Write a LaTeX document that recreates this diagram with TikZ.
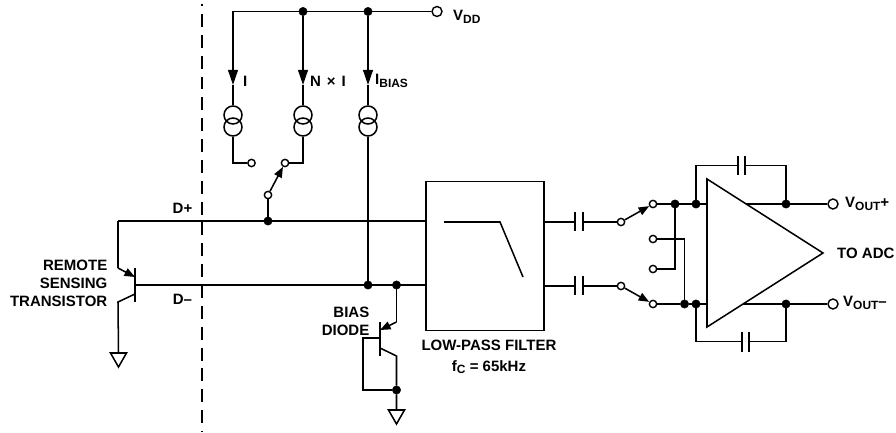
\documentclass[tikz,border=0pt]{standalone}
\usepackage{fontspec}
\setmainfont{Liberation Sans}
\usetikzlibrary{arrows.meta}
\newcommand{\lowsub}[1]{\raisebox{-.35ex}{\fontsize{10.2}{12}\selectfont #1}}
\tikzset{
	wire/.style={line width=1.3pt},
	tip/.style={wire, -{Triangle[length=13pt, width=8.5pt]}},
	smalltip/.style={wire, -{Triangle[length=9pt, width=7pt]}},
	dot/.style={circle, fill=black, draw=black, inner sep=0pt, minimum size=0.25cm},
	term/.style={circle, draw, fill=white, line width=1.2pt, inner sep=0pt, minimum size=0.22cm},
	bigterm/.style={term, minimum size=0.3cm},
	source/.style={circle, draw, line width=1.3pt, inner sep=0pt, minimum size=0.54cm},
	label/.style={align=center, inner sep=0pt, font=\fontsize{12.8}{15.5}\selectfont\bfseries},
}
\begin{document}
\begin{tikzpicture}[x=0.03cm, y=-0.03cm]
	\useasboundingbox (0,0) rectangle (896,433);

	% boundary
	\coordinate (dashtop) at (202,4);
	\coordinate (dashbot) at (202,432);
	\draw[wire, dash pattern=on 11pt off 6.8pt, dash phase=9.3pt] (dashtop) -- (dashbot);

	% supply rail
	\coordinate (railleft) at (233,11.5);
	\node[dot] (raila) at (303,11.5) {};
	\node[dot] (railb) at (368,11.5) {};
	\node[bigterm] (vdd) at (437,11.5) {};
	\node[label, anchor=west] at (453,17) {V\lowsub{DD}};
	\draw[wire] (railleft) -- (raila) -- (railb) -- (vdd);

	% current sources
	\node[source] (sia) at (233,115) {};
	\node[source] (sib) at (233,127) {};
	\node[source] (sna) at (303,115) {};
	\node[source] (snb) at (303,127) {};
	\node[source] (sba) at (368,115) {};
	\node[source] (sbb) at (368,127) {};
	\coordinate (tipi) at (233,85);
	\coordinate (tipn) at (303,85);
	\coordinate (tipb) at (368,85);
	\draw[tip] (railleft) -- (tipi);
	\draw[tip] (raila) -- (tipn);
	\draw[tip] (railb) -- (tipb);
	\draw[wire] (tipi) -- (sia.north);
	\draw[wire] (tipn) -- (sna.north);
	\draw[wire] (tipb) -- (sba.north);
	\node[label, anchor=west] at (243,81) {I};
	\node[label, anchor=west] at (310,81) {N\hspace{1.5pt} × \hspace{1.5pt}I};
	\node[label, anchor=west] at (375,81) {I\lowsub{BIAS}};

	% switch at the sources
	\node[term] (swi) at (251.5,163) {};
	\node[term] (swn) at (285,163) {};
	\node[term] (swd) at (268,195) {};
	\coordinate (ci) at (233,163);
	\coordinate (cn) at (303,163);
	\draw[wire] (sib.south) -- (ci) -- (swi);
	\draw[wire] (snb.south) -- (cn) -- (swn);
	\draw[smalltip] (swd) -- (swn);

	% signal lines
	\node[dot] (dpdot) at (268,221) {};
	\node[dot] (dmdot) at (368,285) {};
	\node[dot] (diodedot) at (396.5,285) {};
	\node[draw, line width=1.3pt, inner sep=0pt, minimum width=3.54cm, minimum height=4.47cm] (lpf) at (485,256) {};
	\coordinate (dpleft) at (118,221);
	\coordinate (dpright) at (lpf.west |- dpleft);
	\coordinate (base) at (135,285);
	\coordinate (dmright) at (lpf.west |- base);
	\draw[wire] (dpleft) -- (dpright);
	\draw[wire] (base) -- (dmright);
	\draw[wire] (swd) -- (dpdot);
	\draw[wire] (sbb.south) -- (dmdot);
	\node[label] at (182.5,208) {D+};
	\node[label] at (182.5,299) {D–};

	% remote transistor
	\coordinate (rbtop) at (135,268);
	\coordinate (rbbot) at (135,302);
	\coordinate (remit) at (118,268);
	\coordinate (remitin) at (135,277);
	\coordinate (rcoll) at (118,302);
	\coordinate (rcollin) at (135,294);
	\coordinate (rgnd) at (118.5,353);
	\draw[wire] (rbtop) -- (rbbot);
	\draw[wire] (dpleft) -- (remit);
	\draw[smalltip] (remit) -- (remitin);
	\draw[wire] (rcollin) -- (rcoll) -- (rgnd);
	\draw[wire] (rgnd) ++(-8,0) -- ++(16,0) -- ++(-8,14) -- cycle;
	\node[label, align=right, anchor=east] at (107.5,283) {REMOTE\\SENSING\\TRANSISTOR};

	% bias diode
	\coordinate (dbtop) at (380,322);
	\coordinate (dbbot) at (380,356);
	\coordinate (demit) at (396.5,322);
	\coordinate (demitin) at (380,330);
	\coordinate (dcoll) at (396.5,356);
	\coordinate (dcollin) at (380,348);
	\coordinate (dbase) at (380,338);
	\coordinate (dloopa) at (363,338);
	\coordinate (dloopb) at (363,390);
	\node[dot] (dloopdot) at (396.5,390) {};
	\coordinate (dgnd) at (396.5,410);
	\draw[wire] (dbtop) -- (dbbot);
	\draw[wire] (diodedot) -- (demit);
	\draw[smalltip] (demit) -- (demitin);
	\draw[wire] (dcollin) -- (dcoll) -- (dloopdot) -- (dgnd);
	\draw[wire] (dbase) -- (dloopa) -- (dloopb) -- (dloopdot);
	\draw[wire] (dgnd) ++(-8,0) -- ++(16,0) -- ++(-8,14) -- cycle;
	\node[label, align=right, anchor=east] at (369.5,321) {BIAS\\DIODE};

	% filter
	\coordinate (fa) at (444,222);
	\coordinate (fb) at (500,222);
	\coordinate (fc) at (523,277);
	\draw[wire] (fa) -- (fb) -- (fc);
	\node[label] at (489,357) {LOW-PASS FILTER\\[2pt]f\lowsub{C} = 65kHz};

	% coupling capacitors and input switches
	\coordinate (lpfa) at (544,222);
	\coordinate (lpfb) at (544,286);
	\coordinate (caal) at (575,222);
	\coordinate (caar) at (583,222);
	\coordinate (cabl) at (575,286);
	\coordinate (cabr) at (583,286);
	\node[term] (swal) at (621,222) {};
	\node[term] (swbl) at (621,286) {};
	\node[term] (swar) at (653,204) {};
	\node[term] (swbr) at (653,304) {};
	\node[term] (swc) at (653,239) {};
	\node[term] (swe) at (653,269) {};
	\draw[wire] (lpfa) -- (caal);
	\draw[wire] (caar) -- (swal);
	\draw[wire] (lpfb) -- (cabl);
	\draw[wire] (cabr) -- (swbl);
	\draw[wire] (575,212) -- (575,231);
	\draw[wire] (583,212) -- (583,231);
	\draw[wire] (575,276) -- (575,295);
	\draw[wire] (583,276) -- (583,295);
	\draw[smalltip] (swal) -- (swar);
	\draw[smalltip] (swbl) -- (swbr);

	% amplifier
	\coordinate (ampa) at (707,179);
	\coordinate (ampb) at (707,327);
	\coordinate (ampc) at (823,253);
	\draw[wire] (ampa) -- (ampc) -- (ampb) -- cycle;
	\node[label, anchor=west] at (837,253) {TO ADC};

	\node[dot] (inaa) at (675,204) {};
	\node[dot] (inab) at (696,204) {};
	\node[dot] (inba) at (684.5,304) {};
	\node[dot] (inbb) at (696,304) {};
	\node[dot] (outa) at (786,204) {};
	\node[dot] (outb) at (786,304) {};
	\node[bigterm] (vouta) at (833,204) {};
	\node[bigterm] (voutb) at (833,304) {};
	\coordinate (ampain) at (707,204);
	\coordinate (ampbin) at (707,304);
	\coordinate (ampaout) at (746,204);
	\coordinate (ampbout) at (743,304);
	\draw[wire] (swar) -- (inaa) -- (inab) -- (ampain);
	\draw[wire] (swbr) -- (inba) -- (inbb) -- (ampbin);
	\draw[wire] (ampaout) -- (outa) -- (vouta);
	\draw[wire] (ampbout) -- (outb) -- (voutb);
	\coordinate (crossc) at (684.5,239);
	\coordinate (crosse) at (675,269);
	\draw[wire] (swc) -- (crossc) -- (inba);
	\draw[wire] (swe) -- (crosse) -- (inaa);
	\node[label, anchor=west] at (845,204) {V\lowsub{OUT}+};
	\node[label, anchor=west] at (843,303) {V\lowsub{OUT}–};

	% feedback capacitors
	\coordinate (fbal) at (696,165.5);
	\coordinate (fbac) at (738,165.5);
	\coordinate (fbad) at (745,165.5);
	\coordinate (fbar) at (786,165.5);
	\coordinate (fbbl) at (696,341.5);
	\coordinate (fbbc) at (742,341.5);
	\coordinate (fbbd) at (749,341.5);
	\coordinate (fbbr) at (786,341.5);
	\draw[wire] (inab) -- (fbal) -- (fbac);
	\draw[wire] (fbad) -- (fbar) -- (outa);
	\draw[wire] (inbb) -- (fbbl) -- (fbbc);
	\draw[wire] (fbbd) -- (fbbr) -- (outb);
	\draw[wire] (738,156) -- (738,175);
	\draw[wire] (745,156) -- (745,175);
	\draw[wire] (742,332) -- (742,352);
	\draw[wire] (749,332) -- (749,352);
\end{tikzpicture}
\end{document}
